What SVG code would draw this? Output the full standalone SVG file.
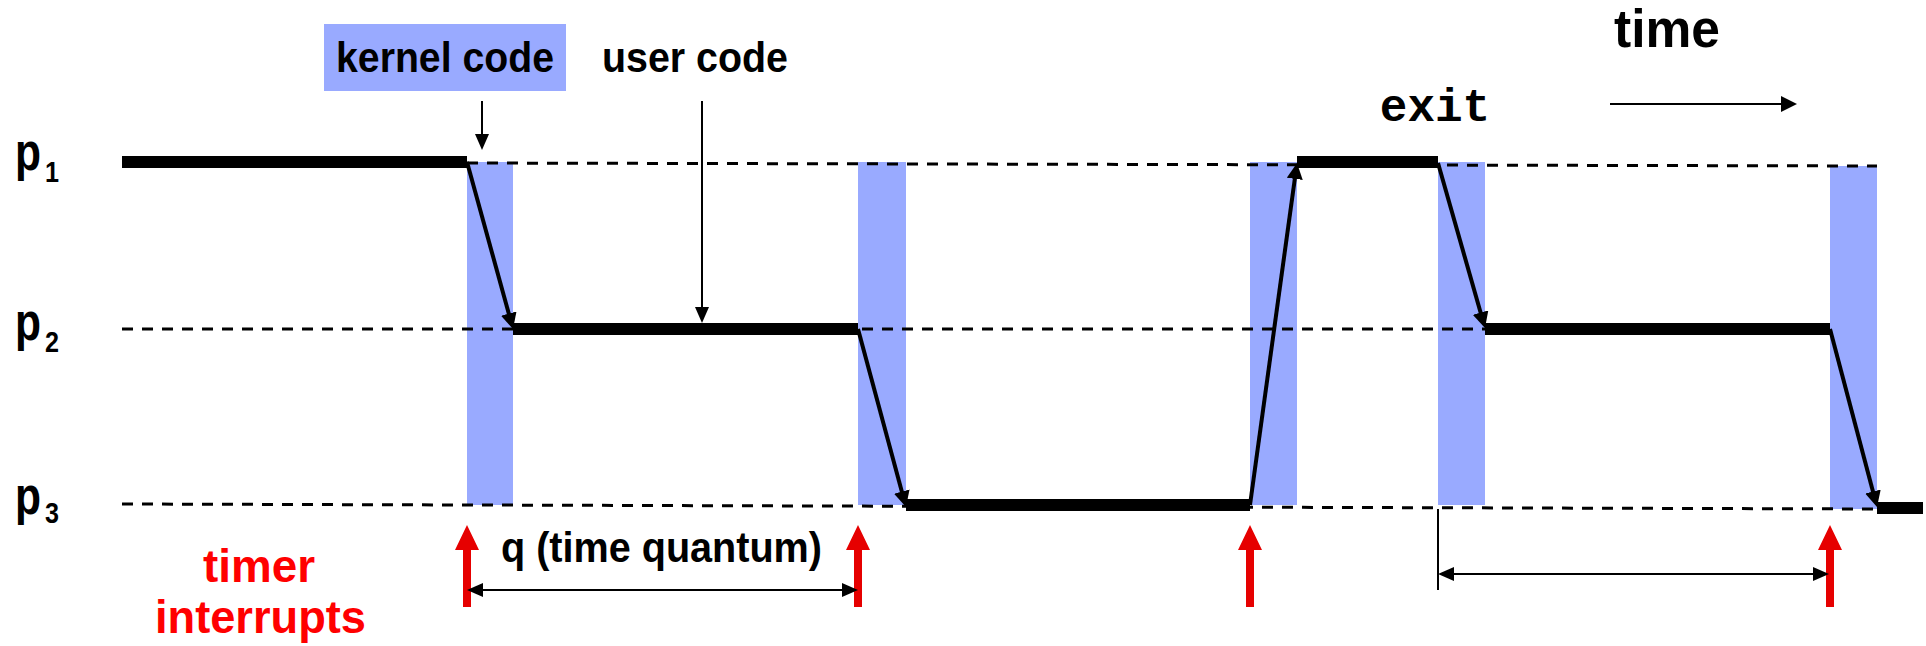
<svg xmlns="http://www.w3.org/2000/svg" width="1926" height="646" viewBox="0 0 1926 646">
<defs>
<style>
.t{font-family:"Liberation Sans",Arial,sans-serif;font-weight:bold;fill:#000}
.red{fill:#ff0000}
.mono{font-family:"Liberation Mono","Courier New",monospace;font-weight:bold;fill:#000}
.bar{fill:#99aaff}
.run{fill:#000}
.dash{stroke:#000;stroke-width:3;stroke-dasharray:11 9;fill:none}
.sw{stroke:#000;stroke-width:4;fill:none;marker-end:url(#ah)}
.thin{stroke:#000;stroke-width:2;fill:none}
.intr{fill:#e60000}
</style>
<marker id="ah" markerUnits="userSpaceOnUse" markerWidth="16" markerHeight="16" refX="8" refY="8" orient="auto"><path d="M0,0 L16,8 L0,16 z" fill="#000"/></marker>
<marker id="ahs" markerUnits="userSpaceOnUse" markerWidth="16" markerHeight="14" refX="8" refY="7" orient="auto-start-reverse"><path d="M0,0 L16,7 L0,14 z" fill="#000"/></marker>
</defs>
<rect width="1926" height="646" fill="#fff"/>

<g id="kernel-bars">
<rect class="bar" x="467" y="162" width="46" height="343"/>
<rect class="bar" x="858" y="162" width="48" height="343"/>
<rect class="bar" x="1250" y="162" width="47" height="343"/>
<rect class="bar" x="1438" y="162" width="47" height="343"/>
<rect class="bar" x="1830" y="166" width="47" height="343"/>
</g>

<g id="guides">
<line class="dash" x1="467" y1="163" x2="1877" y2="166"/>
<line class="dash" x1="122" y1="329" x2="1830" y2="329"/>
<line class="dash" x1="122" y1="504" x2="1877" y2="509"/>
</g>

<g id="p1-runs">
<rect class="run" x="122" y="156" width="345" height="12"/>
<rect class="run" x="1297" y="156" width="141" height="12"/>
</g>
<g id="p2-runs">
<rect class="run" x="513" y="323" width="345" height="12"/>
<rect class="run" x="1485" y="323" width="345" height="12"/>
</g>
<g id="p3-runs">
<rect class="run" x="906" y="499" width="344" height="12"/>
<rect class="run" x="1877" y="502" width="46" height="12"/>
</g>

<g id="label-p1"><text class="t" x="15" y="170" font-size="54" textLength="26" lengthAdjust="spacingAndGlyphs">p</text><text class="t" x="45" y="182" font-size="30" textLength="14" lengthAdjust="spacingAndGlyphs">1</text></g>
<g id="label-p2"><text class="t" x="15" y="340" font-size="54" textLength="26" lengthAdjust="spacingAndGlyphs">p</text><text class="t" x="45" y="352" font-size="30" textLength="14" lengthAdjust="spacingAndGlyphs">2</text></g>
<g id="label-p3"><text class="t" x="15" y="514" font-size="54" textLength="26" lengthAdjust="spacingAndGlyphs">p</text><text class="t" x="45" y="523" font-size="30" textLength="14" lengthAdjust="spacingAndGlyphs">3</text></g>

<g id="kernel-code">
<rect class="bar" x="324" y="24" width="242" height="67"/>
<text class="t" x="336" y="72" font-size="43" textLength="218" lengthAdjust="spacingAndGlyphs">kernel code</text>
</g>
<g id="user-code"><text class="t" x="602" y="72" font-size="43" textLength="186" lengthAdjust="spacingAndGlyphs">user code</text></g>
<g id="time-label"><text class="t" x="1614" y="47" font-size="53" textLength="106" lengthAdjust="spacingAndGlyphs">time</text></g>
<g id="exit-label"><text class="mono" x="1435" y="121" font-size="46" text-anchor="middle">exit</text></g>
<g id="quantum-label"><text class="t" x="501" y="562" font-size="43" textLength="321" lengthAdjust="spacingAndGlyphs">q (time quantum)</text></g>
<g id="timer-label">
<text class="t red" x="203" y="582" font-size="47" textLength="112" lengthAdjust="spacingAndGlyphs">timer</text>
<text class="t red" x="155" y="633" font-size="47" textLength="211" lengthAdjust="spacingAndGlyphs">interrupts</text>
</g>

<g id="timer-interrupts">
<polygon class="intr" points="467,525 479,550 471,550 471,607 463,607 463,550 455,550"/>
<polygon class="intr" points="858,525 870,550 862,550 862,607 854,607 854,550 846,550"/>
<polygon class="intr" points="1250,525 1262,550 1254,550 1254,607 1246,607 1246,550 1238,550"/>
<polygon class="intr" points="1830,525 1842,550 1834,550 1834,607 1826,607 1826,550 1818,550"/>
</g>

<g id="connectors">
<line class="sw" x1="467" y1="162" x2="510.9" y2="321.3"/>
<line class="sw" x1="858" y1="329" x2="903.9" y2="499.3"/>
<line class="sw" x1="1250" y1="505" x2="1295.9" y2="170.9"/>
<line class="sw" x1="1438" y1="163" x2="1482.8" y2="320.3"/>
<line class="sw" x1="1830" y1="329" x2="1875" y2="499.3"/>
<line class="thin" x1="482" y1="101" x2="482" y2="142" marker-end="url(#ahs)"/>
<line class="thin" x1="702" y1="101" x2="702" y2="315" marker-end="url(#ahs)"/>
<line class="thin" x1="1610" y1="104" x2="1789" y2="104" stroke-width="4" marker-end="url(#ah)"/>
<line class="thin" x1="475" y1="590" x2="850" y2="590" stroke-width="3" marker-start="url(#ahs)" marker-end="url(#ahs)"/>
<line class="thin" x1="1438" y1="509" x2="1438" y2="590" stroke="#333"/>
<line class="thin" x1="1446" y1="574" x2="1821" y2="574" stroke-width="3" marker-start="url(#ahs)" marker-end="url(#ahs)"/>
</g>
</svg>
